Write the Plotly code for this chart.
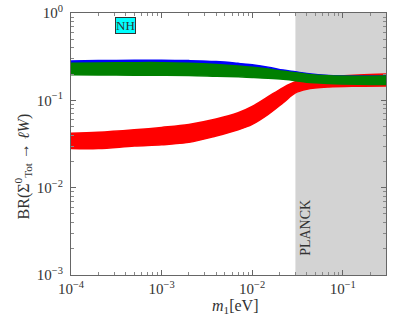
import plotly.graph_objects as go

# ---- data ----
m1 = [1e-4, 2e-4, 5e-4, 1e-3, 2e-3, 4e-3, 7e-3, 1e-2, 1.5e-2, 2.2e-2, 3e-2, 4e-2, 7e-2, 0.15, 0.3]

red_lo = [0.028, 0.028, 0.030, 0.031, 0.033, 0.039, 0.046, 0.053, 0.069, 0.094, 0.122, 0.134, 0.142, 0.145, 0.146]
red_hi = [0.042, 0.043, 0.046, 0.049, 0.053, 0.061, 0.072, 0.085, 0.110, 0.140, 0.163, 0.175, 0.185, 0.195, 0.200]

blue_lo = [0.205, 0.205, 0.204, 0.204, 0.203, 0.199, 0.195, 0.192, 0.187, 0.181, 0.172, 0.165, 0.160, 0.157, 0.156]
blue_hi = [0.283, 0.285, 0.287, 0.288, 0.285, 0.278, 0.265, 0.255, 0.240, 0.222, 0.212, 0.203, 0.193, 0.190, 0.190]

green_lo = [0.196, 0.195, 0.194, 0.194, 0.193, 0.189, 0.186, 0.183, 0.179, 0.174, 0.168, 0.161, 0.156, 0.153, 0.152]
green_hi = [0.266, 0.268, 0.270, 0.270, 0.266, 0.258, 0.248, 0.240, 0.228, 0.215, 0.207, 0.199, 0.191, 0.189, 0.190]

planck_limit = 0.03
x_range = [1e-4, 0.3]
y_range = [1e-3, 1.0]

x_tickvals = [1e-4, 1e-3, 1e-2, 1e-1]
x_ticktext = ["10<sup>−4</sup>", "10<sup>−3</sup>", "10<sup>−2</sup>", "10<sup>−1</sup>"]
y_tickvals = [1e-3, 1e-2, 1e-1, 1.0]
y_ticktext = ["10<sup>−3</sup>", "10<sup>−2</sup>", "10<sup>−1</sup>", "10<sup>0</sup>"]

minor_vals = [d * 10 ** e for e in range(-4, 1) for d in range(2, 10)]

FONT = "Liberation Serif"

fig = go.Figure()


def band(lo, hi, color):
    fig.add_trace(go.Scatter(x=m1, y=lo, mode="lines", line=dict(color=color, width=1.5, shape="spline"),
                             showlegend=False, hoverinfo="skip"))
    fig.add_trace(go.Scatter(x=m1, y=hi, mode="lines", line=dict(color=color, width=1.5, shape="spline"),
                             fill="tonexty", fillcolor=color, showlegend=False, hoverinfo="skip"))


band(red_lo, red_hi, "#ff0000")
band(blue_lo, blue_hi, "#0000ff")
band(green_lo, green_hi, "#008000")

fig.add_shape(type="rect", xref="x", yref="paper", x0=planck_limit, x1=x_range[1], y0=0, y1=1,
              fillcolor="#d3d3d3", line=dict(width=0), layer="below")

axis_common = dict(
    type="log", showgrid=False, zeroline=False, showline=True, linecolor="#666666", linewidth=1,
    mirror="allticks", ticks="inside", ticklen=5, tickcolor="#666666", tickwidth=1,
    tickfont=dict(family=FONT, size=15, color="#333333"),
    minor=dict(ticks="inside", ticklen=3, tickcolor="#888888", tickmode="array", tickvals=minor_vals,
               showgrid=False),
)

fig.update_xaxes(**axis_common, range=[-4, -0.5229], tickmode="array", tickvals=x_tickvals, ticktext=x_ticktext,
                 automargin=False)
fig.update_yaxes(**axis_common, range=[-3, 0], tickmode="array", tickvals=y_tickvals, ticktext=y_ticktext,
                 ticklabelstandoff=4, automargin=False)

fig.add_annotation(xref="paper", yref="paper", x=-0.152, y=0.415, xanchor="center", yanchor="middle",
                   text="BR(Σ<sup>0</sup><sub>Tot</sub> → <i>ℓW</i>)",
                   textangle=-90, showarrow=False, font=dict(family=FONT, size=16, color="#333333"))
fig.add_annotation(xref="paper", yref="paper", x=0.522, y=-0.122, xanchor="center", yanchor="middle",
                   text="<i>m</i><sub>1</sub>[eV]",
                   showarrow=False, font=dict(family=FONT, size=16, color="#333333"))
fig.add_annotation(xref="paper", yref="paper", x=0.174, y=0.951, xanchor="center", yanchor="middle",
                   text="NH", showarrow=False,
                   bgcolor="#00ffff", bordercolor="#333333", borderwidth=1, borderpad=0,
                   font=dict(family=FONT, size=13, color="#333333"))
fig.add_annotation(xref="paper", yref="paper", x=0.746, y=0.18, xanchor="center", yanchor="middle",
                   text="PLANCK", textangle=-90, showarrow=False,
                   font=dict(family=FONT, size=14, color="#333333"))

fig.update_layout(
    width=407, height=319,
    margin=dict(l=71, r=21, t=13, b=44),
    paper_bgcolor="white", plot_bgcolor="white",
    showlegend=False,
)

fig.write_html("out.html", config={"displayModeBar": False},
               post_script="document.body.style.margin='0px';")
